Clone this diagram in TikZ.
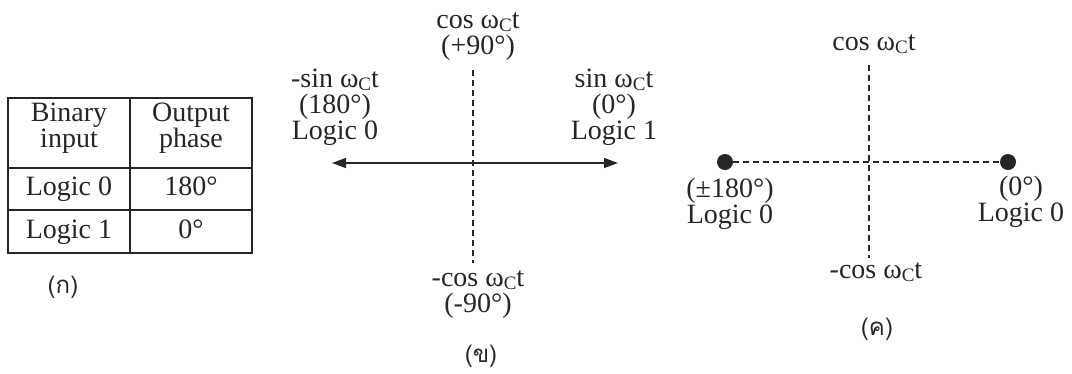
\documentclass[tikz,border=0pt]{standalone}
\usepackage{fontspec}
\setmainfont{Liberation Serif}
\newfontfamily\thaifont[Script=Thai]{Loma}
\usetikzlibrary{arrows.meta}
\definecolor{ink}{HTML}{262626}
\newcommand{\wct}{ω\raisebox{-3pt}{\fontsize{19}{19}\selectfont C}t}

\begin{document}
\begin{tikzpicture}[x=1pt,y=-1pt,text=ink,font=\fontsize{28}{26}\selectfont,lbl/.style={align=center,inner sep=0pt,anchor=base},axis/.style={ink,line width=1.4pt,dash pattern=on 6pt off 4pt},phasor/.style={{Triangle[length=14pt,width=10pt]}-{Triangle[length=14pt,width=10pt]},ink,line width=1.4pt},dot/.style={circle,fill=ink,inner sep=0pt,minimum size=16pt},rule/.style={ink,line width=1.3pt},tag/.style={font=\thaifont\fontsize{24}{24}\selectfont,inner sep=0pt}]
 \useasboundingbox (0,0) rectangle (1072,373);
 % (a) truth table
 \draw[rule] (8,98) rectangle (252,253);
 \draw[rule] (130,98)--(130,253);
 \foreach \y in {168,210}{\draw[rule] (8,\y)--(252,\y);}
 \node[lbl] (hin) at (69,147) {Binary\\input};
 \node[lbl] (hph) at (191,147) {Output\\phase};
 \foreach \a/\b [count=\i] in {Logic 0/180°,Logic 1/0°}{\node[lbl] (in\i) at (69,152+43*\i) {\a}; \node[lbl] (ph\i) at (191,152+43*\i) {\b};}
 \node[tag] (ta) at (63,287) {(ก)};
 % (b) phasor diagram
 \coordinate (bt) at (473,70); \coordinate (bb) at (473,263);
 \coordinate (bl) at (332,163); \coordinate (br) at (618,163);
 \draw[axis] (bt)--(bb);
 \draw[phasor] (bl)--(br);
 \node[lbl] (cosp) at (478,54) {cos \wct\\(+90°)};
 \node[lbl] (cosn) at (478,312) {-cos \wct\\(-90°)};
 \node[lbl] (sinn) at (335,139) {-sin \wct\\(180°)\\Logic 0};
 \node[lbl] (sinp) at (614,139) {sin \wct\\(0°)\\Logic 1};
 \node[tag] (tb) at (481,356) {(ข)};
 % (c) constellation
 \coordinate (ct) at (869,65); \coordinate (cb) at (869,258);
 \draw[axis] (ct)--(cb);
 \node[dot] (p0) at (725,162) {};
 \node[dot] (p1) at (1008,162) {};
 \draw[axis] (p0)--(p1);
 \node[lbl] (cr) at (874,50) {cos \wct};
 \node[lbl] (crn) at (876,278) {-cos \wct};
 \node[lbl,font=\fontsize{28}{24}\selectfont] (l0) at (730,223) {(±180°)\\Logic 0};
 \node[lbl,font=\fontsize{28}{24}\selectfont] (l1) at (1021,221) {(0°)\\Logic 0};
 \node[tag] (tc) at (877,329) {(ค)};
\end{tikzpicture}
\end{document}
